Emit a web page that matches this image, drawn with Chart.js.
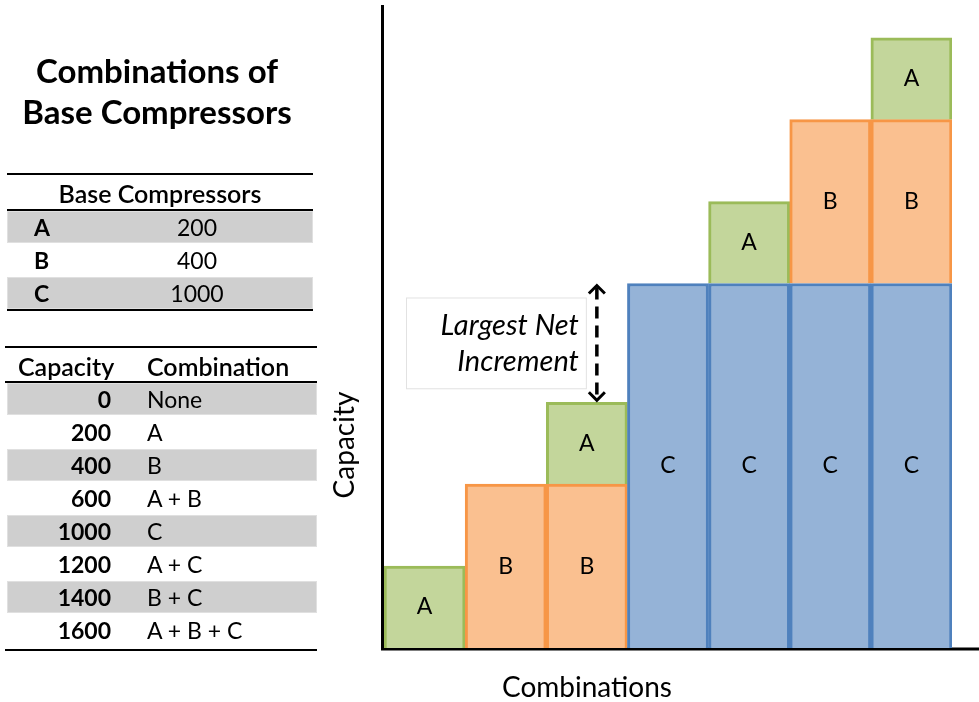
<!DOCTYPE html>
<html>
<head>
<meta charset="utf-8">
<script src="https://cdn.jsdelivr.net/npm/chart.js@4/dist/chart.umd.min.js"></script>
<style>
  html, body { margin: 0; padding: 0; background: #fff; }
  body { width: 979px; height: 702px; position: relative; overflow: hidden; font-family: Lato, "Open Sans", sans-serif; color: #000; }
  #chartBox { position: absolute; left: 0; top: 0; width: 979px; height: 702px; }
  #panel { position: absolute; left: 0; top: 0; width: 330px; height: 702px; }
  .title { position: absolute; left: 0; width: 314px; top: 50px; text-align: center; font-weight: 700; font-size: 33px; line-height: 41px; white-space: nowrap; }
  .rule { position: absolute; height: 2px; background: #000; }
  .row { position: absolute; height: 32px; line-height: 32px; font-size: 23px; }
  .row.gray { background: #cfcfcf; box-shadow: inset 0 0 0 1px #e0e0e0; }
  .cell { position: absolute; top: 0; white-space: nowrap; }
  .hdr { position: absolute; font-size: 25px; line-height: 24px; font-weight: 600; white-space: nowrap; }
</style>
</head>
<body>
<div id="chartBox"><canvas id="capChart" width="979" height="702"></canvas></div>
<div id="panel"></div>
<script>
// left tables
const baseNames = ['A', 'B', 'C'];
const baseCaps = [200, 400, 1000];
const tableCaps = [0, 200, 400, 600, 1000, 1200, 1400, 1600];
const tableCombos = ['None', 'A', 'B', 'A + B', 'C', 'A + C', 'B + C', 'A + B + C'];

// chart: one bar per combination, stacked C / B / A
const comboLabels = ['A', 'B', 'A + B', 'C', 'A + C', 'B + C', 'A + B + C'];
const segC = [null, null, null, 890, 890, 890, 890];
const segB = [null, 400, 400, null, null, 400, 400];
const segA = [200, null, 200, null, 200, null, 200];

const panel = document.getElementById('panel');
let html = '<div class="title">Combinations of<br>Base Compressors</div>';

html += '<div class="rule" style="left:7px;width:306px;top:173px"></div>';
html += '<div class="hdr" style="left:7px;width:306px;top:181px;text-align:center">Base Compressors</div>';
html += '<div class="rule" style="left:7px;width:306px;top:209px"></div>';
baseNames.forEach((n, i) => {
    let top = 211 + i * 33;
    html += '<div class="row' + (i % 2 === 0 ? ' gray' : '') + '" style="left:7px;width:306px;top:' + top + 'px">' +
        '<span class="cell" style="left:27px;font-weight:700">' + n + '</span>' +
        '<span class="cell" style="left:140px;width:100px;text-align:center">' + baseCaps[i] + '</span></div>';
});
html += '<div class="rule" style="left:7px;width:306px;top:309px"></div>';

html += '<div class="rule" style="left:5px;width:312px;top:346px"></div>';
html += '<div class="hdr" style="left:18px;top:354px">Capacity</div>';
html += '<div class="hdr" style="left:147px;top:354px">Combination</div>';
html += '<div class="rule" style="left:5px;width:312px;top:381px"></div>';
tableCaps.forEach((c, i) => {
    let top = 383 + i * 33;
    html += '<div class="row' + (i % 2 === 0 ? ' gray' : '') + '" style="left:7px;width:310px;top:' + top + 'px">' +
        '<span class="cell" style="left:0;width:104px;text-align:right;font-weight:700">' + c + '</span>' +
        '<span class="cell" style="left:140px">' + tableCombos[i] + '</span></div>';
});
html += '<div class="rule" style="left:5px;width:312px;top:649px"></div>';
panel.innerHTML = html;

// axes lines, drawn under the bars
const axisLines = {
    id: 'axisLines',
    beforeDatasetsDraw(chart) {
        const {ctx, chartArea} = chart;
        ctx.save();
        ctx.strokeStyle = '#000';
        ctx.lineWidth = 3;
        ctx.beginPath();
        ctx.moveTo(chartArea.left - 1.5, chartArea.top);
        ctx.lineTo(chartArea.left - 1.5, chartArea.bottom + 1);
        ctx.lineTo(chart.width, chartArea.bottom + 1);
        ctx.stroke();
        ctx.restore();
    }
};

// segment letters, axis titles and the annotation
const extras = {
    id: 'extras',
    afterDatasetsDraw(chart) {
        const {ctx, chartArea} = chart;
        const yScale = chart.scales.y;
        ctx.save();
        ctx.fillStyle = '#000';
        ctx.textAlign = 'center';
        ctx.textBaseline = 'middle';
        ctx.font = '23px Lato, sans-serif';
        chart.data.datasets.forEach((ds, di) => {
            const meta = chart.getDatasetMeta(di);
            meta.data.forEach((el, i) => {
                if (ds.data[i] == null) return;
                ctx.fillText(ds.label, el.x, (el.y + el.base) / 2);
            });
        });

        // axis titles
        ctx.font = '28px Lato, sans-serif';
        ctx.fillText('Combinations', 587, 688);
        ctx.save();
        ctx.translate(345, 445);
        ctx.rotate(-Math.PI / 2);
        ctx.fillText('Capacity', 0, 0);
        ctx.restore();

        // largest net increment: from top of A+B to top of C
        const bar = chart.getDatasetMeta(2).data[2];
        const ax = bar.x + 10;
        const yLow = yScale.getPixelForValue(segB[2] + segA[2]);
        const yHigh = yScale.getPixelForValue(segC[3]);

        const bx = chartArea.left + 22, by = yHigh + 14;
        const bw = ax - 11 - bx, bh = (yLow - 14) - by;
        ctx.fillStyle = '#fff';
        ctx.fillRect(bx, by, bw, bh);
        ctx.strokeStyle = '#e2e2e2';
        ctx.lineWidth = 1;
        ctx.strokeRect(bx + 0.5, by + 0.5, bw, bh);

        ctx.fillStyle = '#000';
        ctx.textAlign = 'right';
        ctx.font = 'italic 29px Lato, sans-serif';
        ctx.fillText('Largest Net', ax - 18, by + 28);
        ctx.fillText('Increment', ax - 18, by + 64);

        ctx.strokeStyle = '#000';
        ctx.lineWidth = 3.5;
        ctx.setLineDash([12, 7]);
        ctx.beginPath();
        ctx.moveTo(ax, yHigh + 4);
        ctx.lineTo(ax, yLow - 4);
        ctx.stroke();
        ctx.setLineDash([]);
        ctx.lineWidth = 3;
        ctx.beginPath();
        ctx.moveTo(ax - 8, yHigh + 10);
        ctx.lineTo(ax, yHigh + 2);
        ctx.lineTo(ax + 8, yHigh + 10);
        ctx.moveTo(ax - 8, yLow - 10);
        ctx.lineTo(ax, yLow - 2);
        ctx.lineTo(ax + 8, yLow - 10);
        ctx.stroke();
        ctx.restore();
    }
};

const ctx = document.getElementById('capChart').getContext('2d');
const chart = new Chart(ctx, {
    type: 'bar',
    data: {
        labels: comboLabels,
        datasets: [
            { label: 'C', data: segC, backgroundColor: '#95b3d7', borderColor: '#4f81bd', borderWidth: 3 },
            { label: 'B', data: segB, backgroundColor: '#fac090', borderColor: '#f79646', borderWidth: 3 },
            { label: 'A', data: segA, backgroundColor: '#c3d69b', borderColor: '#9bbb59', borderWidth: 3 }
        ]
    },
    options: {
        responsive: false,
        animation: false,
        layout: { padding: { left: 384, right: 27, top: 5, bottom: 54 } },
        datasets: { bar: { barPercentage: 1, categoryPercentage: 1 } },
        scales: {
            x: { stacked: true, display: false },
            y: { stacked: true, display: false, min: 0, max: 1570 }
        },
        plugins: {
            legend: { display: false },
            tooltip: { enabled: false }
        }
    },
    plugins: [axisLines, extras]
});
</script>
</body>
</html>
